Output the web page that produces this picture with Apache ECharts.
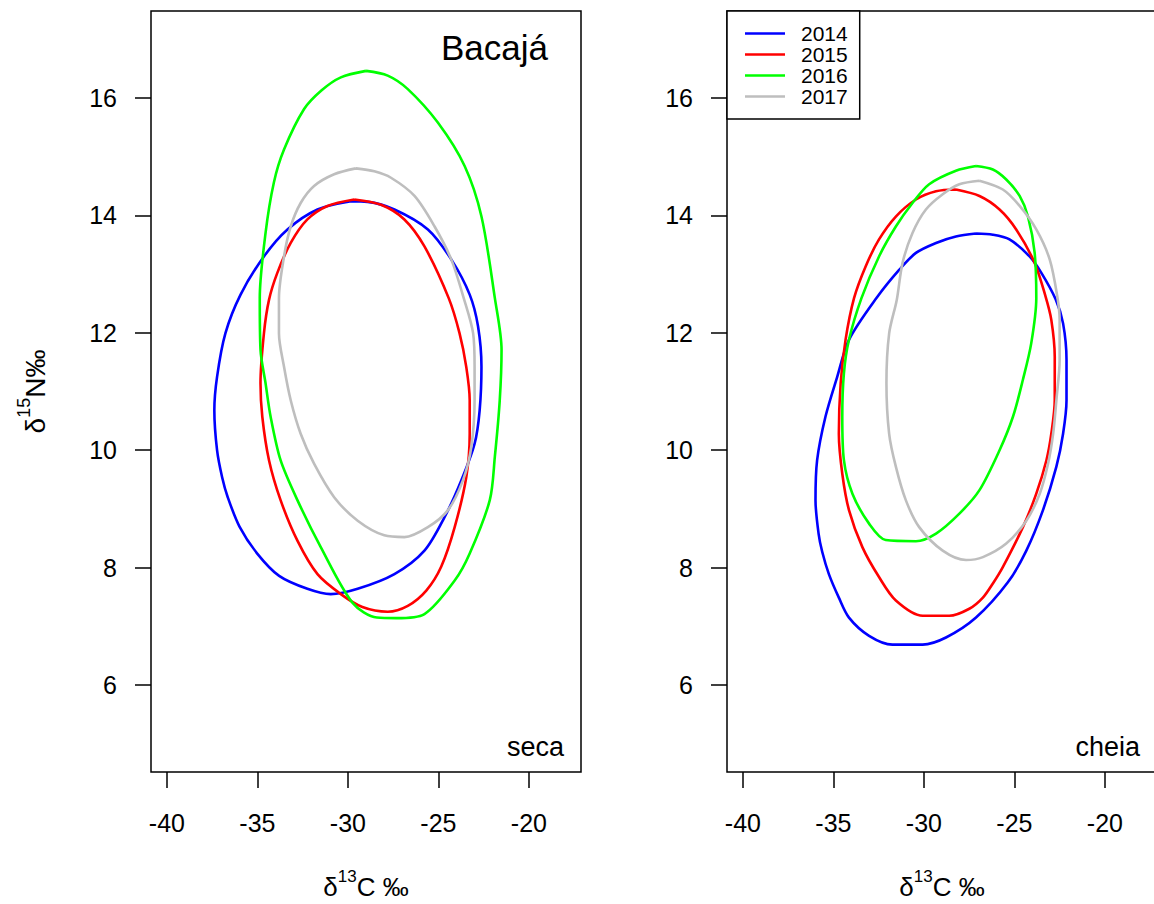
<!DOCTYPE html>
<html>
<head>
<meta charset="utf-8">
<title>Bacajá - elipses isotópicas</title>
<script src="https://cdn.jsdelivr.net/npm/echarts@6/dist/echarts.min.js"></script>
<style>
    html, body { margin: 0; padding: 0; background: #fff; }
    #isoChart { width: 1154px; height: 904px; }
</style>
</head>
<body>
<div id="isoChart"></div>
<script>
// anos (legenda) e cores
var years = ['2014', '2015', '2016', '2017'];
var yearColors = ['#0000ff', '#ff0000', '#00ff00', '#bebebe'];

// marcas dos eixos
var xTicks = [-40, -35, -30, -25, -20];
var yTicks = [6, 8, 10, 12, 14, 16];

// elipses - período seca [δ13C, δ15N]
var seca2014 = [[-29.83,14.24],[-31.68,14.10],[-33.34,13.76],[-34.64,13.30],[-35.93,12.65],[-36.77,11.99],[-37.23,11.25],[-37.38,10.68],[-37.23,10.00],[-36.95,9.54],[-36.64,9.20],[-35.99,8.70],[-35.01,8.24],[-33.80,7.86],[-32.24,7.64],[-30.95,7.55],[-29.46,7.64],[-27.43,7.89],[-25.77,8.29],[-24.66,8.86],[-23.73,9.49],[-23.00,10.11],[-22.72,10.68],[-22.62,11.42],[-22.81,12.11],[-23.27,12.65],[-24.29,13.25],[-25.58,13.76],[-27.43,14.10],[-28.91,14.23],[-29.83,14.24]];
var seca2015 = [[-29.65,14.27],[-31.13,14.16],[-32.24,13.93],[-33.16,13.53],[-33.90,13.02],[-34.36,12.56],[-34.64,11.99],[-34.83,11.14],[-34.73,10.57],[-34.36,9.83],[-33.72,9.15],[-32.79,8.46],[-31.68,7.89],[-30.39,7.55],[-29.20,7.33],[-27.80,7.25],[-26.69,7.35],[-25.67,7.61],[-24.84,8.02],[-24.10,8.69],[-23.46,9.54],[-23.27,10.28],[-23.27,10.85],[-23.46,11.42],[-23.83,11.99],[-24.43,12.59],[-25.77,13.47],[-26.88,13.93],[-28.17,14.18],[-29.65,14.27]];
var seca2016 = [[-29.00,16.46],[-30.39,16.35],[-31.45,16.13],[-32.42,15.81],[-33.53,15.12],[-34.09,14.56],[-34.55,13.70],[-34.87,12.59],[-34.83,11.71],[-34.55,11.14],[-34.27,10.57],[-33.72,9.83],[-32.79,9.15],[-31.50,8.35],[-29.74,7.40],[-28.40,7.15],[-27.32,7.14],[-25.77,7.21],[-24.10,7.78],[-23.27,8.24],[-22.16,9.15],[-21.88,9.89],[-21.61,10.85],[-21.51,11.71],[-21.88,12.59],[-22.62,13.98],[-23.55,14.84],[-25.03,15.58],[-26.69,16.15],[-27.80,16.38],[-29.00,16.46]];
var seca2017 = [[-29.56,14.80],[-30.76,14.70],[-31.87,14.50],[-32.61,14.21],[-33.16,13.81],[-33.53,13.30],[-33.81,12.59],[-33.81,11.99],[-33.53,11.42],[-33.16,10.85],[-32.61,10.28],[-31.87,9.77],[-30.76,9.20],[-29.46,8.80],[-27.99,8.55],[-26.88,8.52],[-25.58,8.69],[-24.47,8.98],[-23.64,9.49],[-23.18,10.06],[-23.00,10.85],[-23.00,11.42],[-23.08,11.99],[-23.60,12.59],[-24.29,13.25],[-25.21,13.81],[-26.32,14.33],[-27.62,14.64],[-28.54,14.75],[-29.56,14.80]];

// elipses - período cheia [δ13C, δ15N]
var cheia2014 = [[-27.12,13.69],[-28.23,13.64],[-29.33,13.53],[-30.44,13.36],[-31.37,13.07],[-32.60,12.60],[-34.14,11.88],[-34.79,11.25],[-35.44,10.57],[-35.90,9.83],[-35.99,9.15],[-35.82,8.58],[-35.62,8.27],[-35.25,7.89],[-34.70,7.49],[-34.14,7.15],[-33.03,6.84],[-31.74,6.69],[-30.07,6.69],[-28.78,6.81],[-27.12,7.15],[-25.36,7.75],[-24.34,8.29],[-23.42,8.98],[-22.68,9.72],[-22.31,10.28],[-22.12,10.85],[-22.12,11.54],[-22.31,12.16],[-22.72,12.57],[-23.51,13.02],[-24.16,13.30],[-25.27,13.59],[-26.19,13.67],[-27.12,13.69]];
var cheia2015 = [[-28.23,14.44],[-29.33,14.41],[-30.44,14.27],[-31.55,13.98],[-32.48,13.59],[-33.22,13.13],[-33.86,12.59],[-34.33,11.88],[-34.60,11.14],[-34.70,10.28],[-34.51,9.60],[-34.14,8.98],[-33.40,8.35],[-32.48,7.84],[-31.55,7.44],[-30.07,7.18],[-28.60,7.18],[-27.49,7.30],[-26.74,7.49],[-26.17,7.74],[-25.64,8.01],[-24.53,8.69],[-23.79,9.26],[-23.23,9.83],[-22.96,10.28],[-22.77,10.85],[-22.77,11.59],[-22.96,12.22],[-23.28,12.62],[-23.88,13.19],[-24.90,13.76],[-25.82,14.10],[-26.93,14.33],[-28.23,14.44]];
var cheia2016 = [[-27.12,14.84],[-28.23,14.76],[-29.71,14.53],[-30.63,14.21],[-31.55,13.81],[-32.48,13.30],[-33.45,12.59],[-34.14,11.88],[-34.42,11.31],[-34.51,10.57],[-34.42,9.83],[-33.95,9.26],[-33.03,8.75],[-32.11,8.47],[-30.44,8.45],[-29.33,8.58],[-28.04,8.92],[-26.93,9.32],[-25.82,10.00],[-25.08,10.57],[-24.53,11.20],[-24.07,11.82],[-23.79,12.59],[-23.88,13.36],[-24.25,13.98],[-24.71,14.33],[-25.45,14.61],[-26.19,14.78],[-27.12,14.84]];
var cheia2017 = [[-26.93,14.59],[-28.04,14.53],[-28.96,14.36],[-29.89,14.10],[-30.63,13.70],[-31.18,13.19],[-31.50,12.56],[-31.92,11.99],[-32.07,11.14],[-31.92,10.28],[-31.55,9.72],[-31.00,9.15],[-30.26,8.69],[-28.96,8.29],[-27.67,8.13],[-26.74,8.18],[-25.45,8.41],[-24.34,8.80],[-23.60,9.26],[-23.14,9.77],[-22.86,10.28],[-22.68,10.85],[-22.50,11.54],[-22.50,12.22],[-22.63,12.62],[-23.05,13.25],[-23.79,13.76],[-24.71,14.16],[-25.64,14.44],[-26.93,14.59]];

var secaSets = [seca2014, seca2015, seca2016, seca2017];
var cheiaSets = [cheia2014, cheia2015, cheia2016, cheia2017];

var fontName = '"Liberation Sans", Arial, sans-serif';

// eixo x (igual nos dois painéis)
function makeXAxis(gridIndex) {
    return {
        type: 'value',
        gridIndex: gridIndex,
        min: -40.88,
        max: -17.12,
        splitLine: { show: false },
        axisLine: { show: false },
        axisTick: {
            show: true, inside: false, length: 16,
            customValues: xTicks,
            lineStyle: { color: '#000', width: 1.5 }
        },
        axisLabel: {
            customValues: xTicks,
            margin: 38,
            fontSize: 25,
            color: '#000',
            fontFamily: fontName
        },
        name: '{a|δ}{b|13}{a|C ‰}',
        nameLocation: 'middle',
        nameGap: 96,
        nameTextStyle: {
            color: '#000',
            fontFamily: fontName,
            rich: {
                a: { fontSize: 26, lineHeight: 32, verticalAlign: 'bottom', fontFamily: fontName, color: '#000' },
                b: { fontSize: 17, lineHeight: 17, verticalAlign: 'top', fontFamily: fontName, color: '#000' }
            }
        }
    };
}

// eixo y
function makeYAxis(gridIndex, withName) {
    var axis = {
        type: 'value',
        gridIndex: gridIndex,
        min: 4.52,
        max: 17.48,
        splitLine: { show: false },
        axisLine: { show: false },
        axisTick: {
            show: true, inside: false, length: 16,
            customValues: yTicks,
            lineStyle: { color: '#000', width: 1.5 }
        },
        axisLabel: {
            customValues: yTicks,
            margin: 34,
            fontSize: 25,
            color: '#000',
            fontFamily: fontName
        }
    };
    if (withName) {
        axis.name = '{a|δ}{b|15}{a|N‰}';
        axis.nameLocation = 'middle';
        axis.nameRotate = 90;
        axis.nameGap = 102;
        axis.nameTextStyle = {
            color: '#000',
            fontFamily: fontName,
            rich: {
                a: { fontSize: 28, lineHeight: 34, verticalAlign: 'bottom', fontFamily: fontName, color: '#000' },
                b: { fontSize: 18, lineHeight: 18, verticalAlign: 'top', fontFamily: fontName, color: '#000' }
            }
        };
    }
    return axis;
}

// séries das elipses
function buildSeries() {
    var list = [];
    [secaSets, cheiaSets].forEach(function (sets, panel) {
        sets.forEach(function (pts, i) {
            list.push({
                name: years[i],
                type: 'line',
                xAxisIndex: panel,
                yAxisIndex: panel,
                data: pts,
                symbol: 'none',
                showSymbol: false,
                smooth: 0.3,
                silent: true,
                color: yearColors[i],
                lineStyle: { color: yearColors[i], width: 2.6 },
                z: 2 + i
            });
        });
    });
    return list;
}

var isoChart = echarts.init(document.getElementById('isoChart'), null, { renderer: 'svg' });

var gridBase = { top: 11, width: 430, height: 761, show: true, borderColor: '#000', borderWidth: 1.5, backgroundColor: 'transparent', containLabel: false, outerBoundsMode: 'none' };

var option = {
    animation: false,
    backgroundColor: '#fff',
    grid: [
        Object.assign({ left: 151 }, gridBase),
        Object.assign({ left: 727 }, gridBase)
    ],
    xAxis: [makeXAxis(0), makeXAxis(1)],
    yAxis: [makeYAxis(0, true), makeYAxis(1, false)],
    legend: {
        data: years,
        orient: 'vertical',
        left: 727,
        top: 11,
        icon: 'rect',
        itemWidth: 40,
        itemHeight: 2.5,
        itemGap: 0,
        padding: [12, 12, 12, 18],
        borderColor: '#000',
        borderWidth: 1.5,
        borderRadius: 0,
        backgroundColor: '#fff',
        selectedMode: false,
        textStyle: { fontSize: 21, color: '#000', fontFamily: fontName, padding: [0, 0, 0, 11], lineHeight: 21 }
    },
    graphic: [
        { type: 'text', right: 1154 - 548, top: 30, style: { text: 'Bacajá', fontSize: 35, fill: '#000', fontFamily: fontName } },
        { type: 'text', right: 1154 - 564, top: 733, style: { text: 'seca', fontSize: 27, fill: '#000', fontFamily: fontName } },
        { type: 'text', right: 1154 - 1140, top: 733, style: { text: 'cheia', fontSize: 27, fill: '#000', fontFamily: fontName } }
    ],
    series: buildSeries()
};

isoChart.setOption(option);
</script>
</body>
</html>
